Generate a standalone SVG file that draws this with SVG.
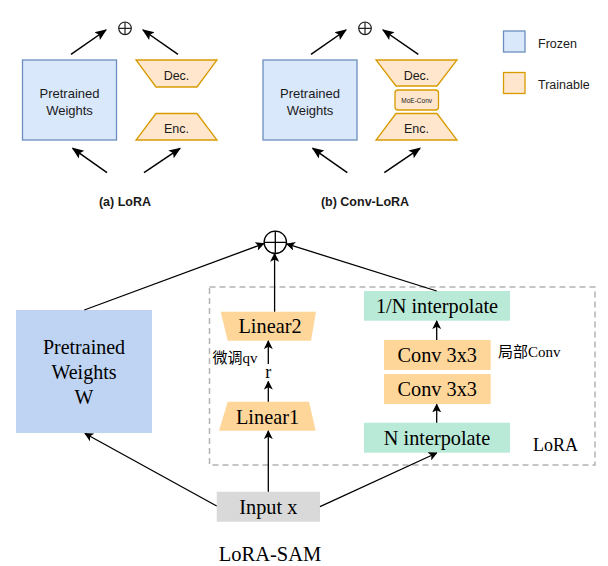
<svg xmlns="http://www.w3.org/2000/svg" width="608" height="566" viewBox="0 0 608 566">
<defs>
<marker id="ah" viewBox="0 0 10 10" refX="9" refY="5" markerWidth="9" markerHeight="9" markerUnits="userSpaceOnUse" orient="auto">
<path d="M0,0 L10,5 L0,10 L2.5,5 z" fill="#000"/>
</marker>
<marker id="ab" viewBox="0 0 10 10" refX="9" refY="5" markerWidth="12" markerHeight="12" markerUnits="userSpaceOnUse" orient="auto">
<path d="M0,1 L10,5 L0,9 L2,5 z" fill="#000"/>
</marker>
<style>
.frz{fill:#dae8fc;stroke:#6c8ebf;stroke-width:1.3}
.trn{fill:#ffe6cc;stroke:#d79b00;stroke-width:1.3}
.sans{font-family:"Liberation Sans",Arial,sans-serif;fill:#1a1a1a}
.ser{font-family:"Liberation Serif","Times New Roman",serif;fill:#000}
.cjk{font-family:"Liberation Serif","Noto Sans CJK SC",serif;fill:#000}
.ln{stroke:#000;stroke-width:1.5;fill:none}
.ln2{stroke:#000;stroke-width:1.3;fill:none}
.lin{fill:#ffd699}
.grn{fill:#b9ead7}
</style>
</defs>

<!-- (a) LoRA -->
<g id="a-pretrained"><rect class="frz" x="22.5" y="60" width="94" height="80"/>
<text class="sans" x="69.5" y="98" font-size="13" text-anchor="middle">Pretrained</text>
<text class="sans" x="69.5" y="114.5" font-size="13" text-anchor="middle">Weights</text></g>
<g id="a-dec"><polygon class="trn" points="136,60 217,60 197,87 156,87"/>
<text class="sans" x="176.5" y="79.5" font-size="12.5" text-anchor="middle">Dec.</text></g>
<g id="a-enc"><polygon class="trn" points="156,113.5 197,113.5 217,140 136,140"/>
<text class="sans" x="176.5" y="133" font-size="12.5" text-anchor="middle">Enc.</text></g>
<g id="a-plus"><circle cx="125" cy="28.3" r="6.3" fill="none" stroke="#222" stroke-width="1.2"/>
<path d="M118.7,28.3 H131.3 M125,22 V34.6" stroke="#222" stroke-width="1.2"/></g>
<g id="a-label"><text class="sans" x="125" y="206" font-size="12.5" font-weight="bold" text-anchor="middle">(a) LoRA</text></g>

<!-- (b) Conv-LoRA -->
<g id="b-pretrained"><rect class="frz" x="263" y="60" width="94" height="80"/>
<text class="sans" x="310" y="98" font-size="13" text-anchor="middle">Pretrained</text>
<text class="sans" x="310" y="114.5" font-size="13" text-anchor="middle">Weights</text></g>
<g id="b-dec"><polygon class="trn" points="376,60 457,60 437,86 396,86"/>
<text class="sans" x="416.5" y="79.5" font-size="12.5" text-anchor="middle">Dec.</text></g>
<g id="b-moe"><rect class="trn" x="395" y="90" width="43.5" height="20" rx="3"/>
<text class="sans" x="416.7" y="102.5" font-size="6.5" text-anchor="middle">MoE-Conv</text></g>
<g id="b-enc"><polygon class="trn" points="396,113.5 437,113.5 457,140 376,140"/>
<text class="sans" x="416.5" y="133" font-size="12.5" text-anchor="middle">Enc.</text></g>
<g id="b-plus"><circle cx="365" cy="28.3" r="6.3" fill="none" stroke="#222" stroke-width="1.2"/>
<path d="M358.7,28.3 H371.3 M365,22 V34.6" stroke="#222" stroke-width="1.2"/></g>
<g id="b-label"><text class="sans" x="365" y="206" font-size="12.5" font-weight="bold" text-anchor="middle">(b) Conv-LoRA</text></g>

<!-- legend -->
<g id="legend-frozen"><rect class="frz" x="503.5" y="31" width="21.5" height="21"/>
<text class="sans" x="538" y="47.5" font-size="12.5">Frozen</text></g>
<g id="legend-trainable"><rect class="trn" x="503.5" y="72.5" width="21.5" height="21"/>
<text class="sans" x="538" y="88.5" font-size="12.5">Trainable</text></g>

<!-- LoRA-SAM -->
<g id="lora-box"><rect x="209.5" y="287" width="385.5" height="178" fill="none" stroke="#b3b3b3" stroke-width="1.5" stroke-dasharray="6,4"/>
<text class="ser" x="555.5" y="451" font-size="18" text-anchor="middle">LoRA</text></g>
<g id="sum"><circle cx="275.3" cy="242.3" r="11.2" fill="#fff" stroke="#000" stroke-width="1.3"/>
<path d="M264.1,242.3 H286.5 M275.3,231.1 V253.5" stroke="#000" stroke-width="1.3"/></g>
<g id="pretrained-w"><rect x="16" y="310" width="136" height="123" fill="#bfd4f3"/>
<text class="ser" x="84" y="353.5" font-size="20" text-anchor="middle">Pretrained</text>
<text class="ser" x="84" y="378.5" font-size="20" text-anchor="middle">Weights</text>
<text class="ser" x="84" y="403.5" font-size="20" text-anchor="middle">W</text></g>
<g id="linear2"><polygon class="lin" points="220.7,311.7 316,311.7 311,340.7 227.7,340.7"/>
<text class="ser" x="270" y="333" font-size="20.3" text-anchor="middle">Linear2</text></g>
<g id="linear1"><polygon class="lin" points="227.7,401.7 309,401.7 315.7,430.7 219,430.7"/>
<text class="ser" x="267.5" y="424" font-size="20.3" text-anchor="middle">Linear1</text></g>
<g id="r-label"><text class="ser" x="268.3" y="378" font-size="18" text-anchor="middle">r</text></g>
<g id="qv-label"><text class="cjk" x="212.5" y="363" font-size="15">微调qv</text></g>
<g id="input-x"><rect x="216.7" y="491.7" width="103.3" height="30" fill="#d9d9d9"/>
<text class="ser" x="268.3" y="514" font-size="20.3" text-anchor="middle">Input x</text></g>
<g id="interp-inv"><rect class="grn" x="364" y="291" width="146" height="29.7"/>
<text class="ser" x="437" y="313" font-size="20.3" text-anchor="middle">1/N interpolate</text></g>
<g id="conv1"><rect class="lin" x="384" y="340" width="106.7" height="30"/>
<text class="ser" x="437.3" y="362" font-size="20.3" text-anchor="middle">Conv 3x3</text></g>
<g id="conv2"><rect class="lin" x="384" y="374" width="106.7" height="30"/>
<text class="ser" x="437.3" y="396" font-size="20.3" text-anchor="middle">Conv 3x3</text></g>
<g id="interp"><rect class="grn" x="364" y="422.7" width="146" height="30"/>
<text class="ser" x="437" y="445" font-size="20.3" text-anchor="middle">N interpolate</text></g>
<g id="conv-label"><text class="cjk" x="498" y="356.5" font-size="15">局部Conv</text></g>
<g id="title"><text class="ser" x="270" y="560.5" font-size="20.5" text-anchor="middle">LoRA-SAM</text></g>

<!-- connectors -->
<g id="connectors">
<line class="ln" x1="71" y1="54.3" x2="106" y2="30" marker-end="url(#ab)"/>
<line class="ln" x1="178" y1="54.3" x2="143" y2="30" marker-end="url(#ab)"/>
<line class="ln" x1="107" y1="172.7" x2="72.7" y2="148.3" marker-end="url(#ab)"/>
<line class="ln" x1="144" y1="172.7" x2="180" y2="148.3" marker-end="url(#ab)"/>
<line class="ln" x1="311" y1="54.3" x2="346" y2="30" marker-end="url(#ab)"/>
<line class="ln" x1="418.3" y1="54.3" x2="383" y2="30" marker-end="url(#ab)"/>
<line class="ln" x1="347.3" y1="172.7" x2="312.7" y2="148.3" marker-end="url(#ab)"/>
<line class="ln" x1="384.3" y1="172.7" x2="420" y2="148.3" marker-end="url(#ab)"/>

<line class="ln2" x1="84.3" y1="310" x2="263.8" y2="243.6" marker-end="url(#ah)"/>
<line class="ln2" x1="436.7" y1="291" x2="286.8" y2="243.9" marker-end="url(#ah)"/>
<line class="ln2" x1="274.6" y1="311.7" x2="274.6" y2="253.6" marker-end="url(#ah)"/>
<line class="ln2" x1="268.3" y1="401.7" x2="268.3" y2="381.5" marker-end="url(#ah)"/>
<line class="ln2" x1="268.3" y1="364" x2="268.3" y2="341" marker-end="url(#ah)"/>
<line class="ln2" x1="268.3" y1="491.7" x2="268.3" y2="431" marker-end="url(#ah)"/>
<line class="ln2" x1="216.7" y1="506" x2="85" y2="433.5" marker-end="url(#ah)"/>
<line class="ln2" x1="320" y1="506.7" x2="436.7" y2="453" marker-end="url(#ah)"/>
<line class="ln2" x1="436.7" y1="340" x2="436.7" y2="321" marker-end="url(#ah)"/>
<line class="ln2" x1="436.7" y1="422.7" x2="436.7" y2="404.3" marker-end="url(#ah)"/>
</g>
</svg>
